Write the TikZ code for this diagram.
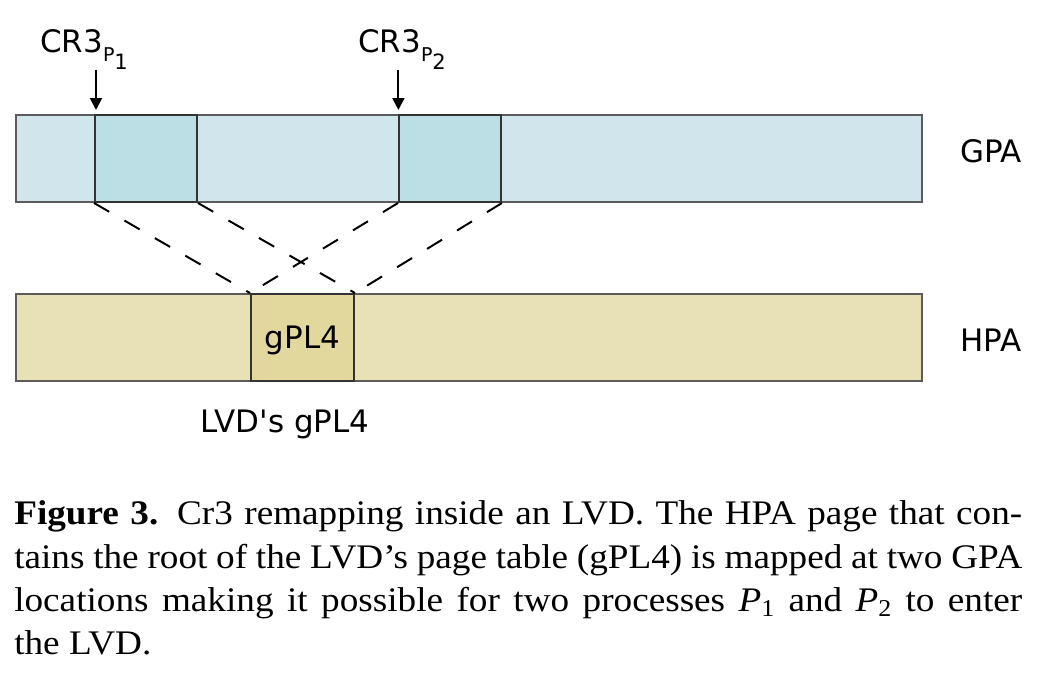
\documentclass[tikz,border=0pt]{standalone}
\usepackage{fontspec}
\setmainfont{Liberation Serif}[FakeStretch=1.08]
\newfontfamily\dvsans{DejaVu Sans}
\usetikzlibrary{arrows.meta,positioning}
\definecolor{gpafill}{HTML}{D0E6EC}
\definecolor{gpapage}{HTML}{BCDEE5}
\definecolor{hpafill}{HTML}{E8E1B6}
\definecolor{hpapage}{HTML}{E2D89E}
\definecolor{barline}{HTML}{5C5C5C}
\definecolor{pageline}{HTML}{333333}
\newcommand{\crlbl}[1]{CR3\raisebox{-6.4pt}{\fontsize{13.5}{13.5}\selectfont P}\raisebox{-11.4pt}{\fontsize{15}{15}\selectfont #1}}

\begin{document}
\begin{tikzpicture}[
  bar/.style={draw=barline,line width=1.4pt,anchor=south west,inner sep=0pt,
              minimum width=22.65cm,minimum height=2.175cm},
  pg/.style={draw=pageline,line width=1.4pt,anchor=south west,inner sep=0pt,
             minimum width=2.55cm,minimum height=2.175cm,font=\dvsans\fontsize{22}{26}\selectfont},
  lbl/.style={anchor=base west,inner sep=0pt,font=\dvsans\fontsize{22}{26}\selectfont},
  arr/.style={-{Triangle[length=8.5pt,width=8.5pt]},line width=1.4pt},
  map/.style={dash pattern=on 12.5pt off 12.5pt,line width=1.4pt}
]
\useasboundingbox (0,0) rectangle (26.4,17.15);

% address bars
\node[bar,fill=gpafill] (gpa) at (0.375,12.075) {};
\node[bar,fill=hpafill] (hpa) at (0.375,7.6) {};
\node[pg,fill=gpapage] (p1) at (2.35,12.075) {};
\node[pg,fill=gpapage] (p2) at (9.95,12.075) {};
\node[pg,fill=hpapage,minimum width=2.575cm,text depth=0pt] (gpl4) at (6.25,7.6) {gPL4};

\node[lbl] (gpalbl) at (24.0,13.075) {GPA};
\node[lbl] (hpalbl) at (24.0,8.35) {HPA};
\node[lbl,anchor=base] (lvd) at (7.125,6.325) {LVD's gPL4};

% cr3 pointers
\node[lbl] (cr1) at (1.0,15.825) {\crlbl{1}};
\node[lbl] (cr2) at (8.95,15.825) {\crlbl{2}};
\coordinate (a1) at (2.4,15.4);
\coordinate (a2) at (9.96,15.4);
\draw[arr] (a1) -- ++(0,-1.0);
\draw[arr] (a2) -- ++(0,-1.0);

% both guest pages map to the same host page
\draw[map] (p1.south west) -- (gpl4.north west);
\draw[map] (p1.south east) -- (gpl4.north east);
\draw[map] (p2.south west) -- (gpl4.north west);
\draw[map] (p2.south east) -- (gpl4.north east);

\node[anchor=base west,inner sep=0pt,text width=25.2cm,align=justify,
      font=\fontsize{24.5}{30.8}\selectfont] (caption) at (0.35,4.025)
  {\textbf{Figure 3.} C\textsc{r}3 remapping inside an LVD. The HPA page that con-\linebreak
   tains the root of the LVD's page table (gPL4) is mapped at two GPA\linebreak
   locations making it possible for two processes \textit{P}\textsubscript{1} and \textit{P}\textsubscript{2} to enter\linebreak
   the LVD.};
\end{tikzpicture}
\end{document}
